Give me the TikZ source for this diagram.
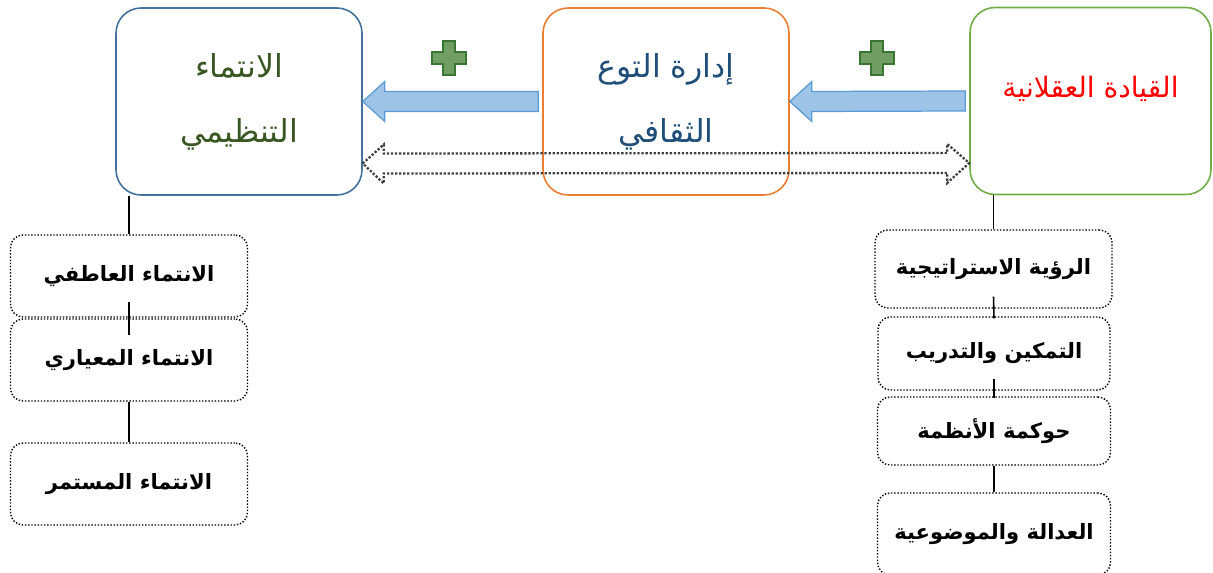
\documentclass[tikz,border=0pt]{standalone}
\usepackage{fontspec}
\usetikzlibrary{calc}
\newfontfamily\arabicfont[Script=Arabic]{DejaVu Sans}
\TeXXeTstate=1

\definecolor{boxblue}{RGB}{65,113,156}
\definecolor{boxorange}{RGB}{237,125,49}
\definecolor{boxgreen}{RGB}{112,173,71}
\definecolor{txtgreen}{RGB}{56,87,35}
\definecolor{txtteal}{RGB}{31,78,121}
\definecolor{arrfill}{RGB}{157,195,230}
\definecolor{arrdraw}{RGB}{91,155,213}
\definecolor{plusfill}{RGB}{112,158,100}
\definecolor{plusdraw}{RGB}{56,118,50}

\tikzset{
  mainbox/.style={draw, line width=0.9pt, rounded corners=0.5cm,
    minimum width=4.92cm, minimum height=3.74cm, align=center,
    font=\arabicfont\fontsize{18}{37}\selectfont},
  subbox/.style={draw, densely dotted, line width=0.8pt, rounded corners=0.25cm,
    minimum width=4.74cm, minimum height=1.64cm,
    font=\arabicfont\bfseries\fontsize{12}{14}\selectfont},
  bigarrow/.style={fill=arrfill, draw=arrdraw, line width=0.7pt},
  dblarrow/.style={draw=gray!50!black, densely dotted, line width=1.3pt},
  plussign/.style={fill=plusfill, draw=plusdraw, line width=0.8pt},
  link/.style={line width=0.9pt}
}

\begin{document}
\begin{tikzpicture}[x=0.02cm, y=-0.02cm]
  \useasboundingbox (0,0) rectangle (1213,573);
  \clip (0,0) rectangle (1213,573);

  % top row
  \node[mainbox, draw=boxblue, text=txtgreen] (belong) at (239,101.5)
    {\beginR الانتماء\endR\\ \beginR التنظيمي\endR};
  \node[mainbox, draw=boxorange, text=txtteal] (diversity) at (666,101.5)
    {\beginR إدارة التوع\endR\\ \beginR الثقافي\endR};
  \node[mainbox, draw=boxgreen, text=red, minimum width=4.82cm, text depth=16pt,
    font=\arabicfont\fontsize{16}{20}\selectfont] (leader) at (1090.5,101)
    {\beginR القيادة العقلانية\endR};

  % left column
  \node[subbox] (emotional) at (129,276) {\beginR الانتماء العاطفي\endR};
  \node[subbox] (normative) at (129,360) {\beginR الانتماء المعياري\endR};
  \node[subbox] (continuance) at (129,484) {\beginR الانتماء المستمر\endR};

  % right column
  \node[subbox, minimum height=1.56cm] (vision) at (993.5,269) {\beginR الرؤية الاستراتيجية\endR};
  \node[subbox, minimum width=4.64cm, minimum height=1.46cm] (training) at (994,353.5) {\beginR التمكين والتدريب\endR};
  \node[subbox, minimum width=4.66cm, minimum height=1.36cm] (systems) at (994,431) {\beginR حوكمة الأنظمة\endR};
  \node[subbox, minimum width=4.66cm] (justice) at (994,534) {\beginR العدالة والموضوعية\endR};

  \draw[link] (emotional.north |- belong.south) -- (emotional.north);
  \draw[link] ($(emotional.south)+(0,-16)$) -- ($(normative.north)+(0,17)$);
  \draw[link] (normative.south) -- (continuance.north);
  \draw[link] (vision.north |- leader.south) -- (vision.north);
  \draw[link] ($(vision.south)+(0,-12)$) -- ($(training.north)+(0,2)$);
  \draw[link] ($(training.south)+(0,-12)$) -- ($(systems.north)+(0,2)$);
  \draw[link] (systems.south) -- (justice.north);

  % block arrows
  \foreach \from/\to in {diversity/belong, leader/diversity}
    \draw[bigarrow] ($(\from.west)+(-4,-10)$) -- ($(\to.east)+(22,-10)$) -- ($(\to.east)+(22,-20)$)
      -- (\to.east) -- ($(\to.east)+(22,20)$) -- ($(\to.east)+(22,10)$) -- ($(\from.west)+(-4,10)$) -- cycle;

  % dotted two-way arrow
  \coordinate (L) at ($(belong.east)+(0,62)$);
  \coordinate (R) at ($(leader.west)+(0,62)$);
  \draw[dblarrow] (L) -- ($(L)+(21,-19)$) -- ($(L)+(21,-10)$) -- ($(R)+(-22,-10)$) -- ($(R)+(-22,-19)$)
    -- (R) -- ($(R)+(-22,20)$) -- ($(R)+(-22,10)$) -- ($(L)+(21,10)$) -- ($(L)+(21,20)$) -- cycle;

  % plus signs
  \foreach \c in {(449,58),(877,58)}
    \draw[plussign] \c ++(-6,-17) -- ++(12,0) -- ++(0,11) -- ++(11,0) -- ++(0,12) -- ++(-11,0)
      -- ++(0,11) -- ++(-12,0) -- ++(0,-11) -- ++(-11,0) -- ++(0,-12) -- ++(11,0) -- cycle;
\end{tikzpicture}
\end{document}
